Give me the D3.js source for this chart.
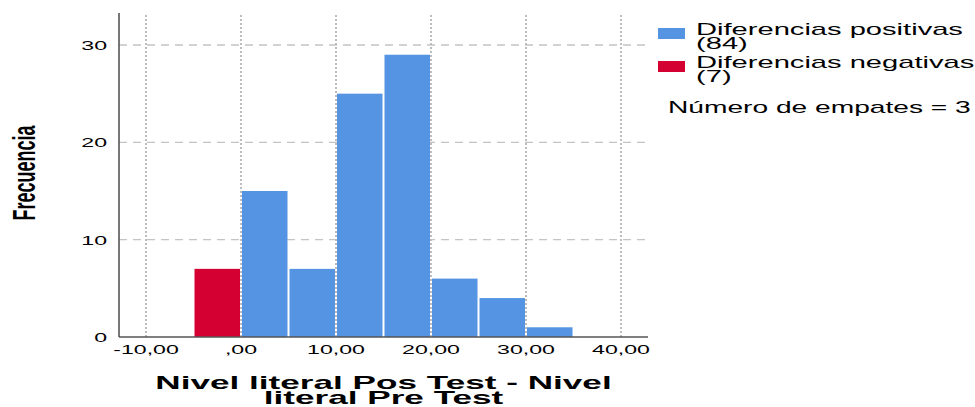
<!DOCTYPE html>
<html>
<head>
<meta charset="utf-8">
<script src="https://cdn.jsdelivr.net/npm/d3@7"></script>
<style>
  html, body { margin: 0; padding: 0; background: #fff; }
  svg { display: block; }
  text { font-family: "Liberation Sans", Arial, sans-serif; fill: #000; }
</style>
</head>
<body>
<svg id="chart" width="975" height="407"></svg>
<script>
// ---- data ----
const binStarts = [-5, 0, 5, 10, 15, 20, 25, 30];
const binWidth = 5;
const counts = [7, 15, 7, 25, 29, 6, 4, 1];
const groups = ["neg", "pos", "pos", "pos", "pos", "pos", "pos", "pos"];
const xTicks = [-10, 0, 10, 20, 30, 40];
const xTickLabels = ["-10,00", ",00", "10,00", "20,00", "30,00", "40,00"];
const yTicks = [0, 10, 20, 30];
const yTickLabels = ["0", "10", "20", "30"];
const legendLabels = [["Diferencias positivas", "(84)"], ["Diferencias negativas", "(7)"]];
const legendGroups = ["pos", "neg"];
const tiesLabel = "Número de empates = 3";
const xTitle = ["Nivel literal Pos Test - Nivel", "literal Pre Test"];
const yTitle = "Frecuencia";

// ---- styles ----
const colors = { pos: "#5594E3", neg: "#D50032" };
const SX = 1.78; // horizontal stretch of text

const svg = d3.select("#chart");
const pLeft = 119, pRight = 648, pTop = 13, pBottom = 337, pad = 27;

const x = d3.scaleLinear().domain([-10, 40]).range([pLeft + pad, pRight - pad]);
const y = d3.scaleLinear().domain([0, 30]).range([pBottom, 45]);

// grid: horizontal dashed
svg.append("g").selectAll("line").data(yTicks.filter(d => d > 0)).join("line")
  .attr("x1", pLeft).attr("x2", pRight)
  .attr("y1", d => y(d)).attr("y2", d => y(d))
  .attr("stroke", "#c4c4c4").attr("stroke-width", 1.3)
  .attr("stroke-dasharray", "8,6");

// grid: vertical dotted
svg.append("g").selectAll("line").data(xTicks).join("line")
  .attr("x1", d => x(d)).attr("x2", d => x(d))
  .attr("y1", pTop + 2).attr("y2", pBottom)
  .attr("stroke", "#bcbcbc").attr("stroke-width", 2)
  .attr("stroke-dasharray", "2,2");

// bars
svg.append("g").selectAll("rect").data(binStarts).join("rect")
  .attr("x", (d) => x(d) + 1)
  .attr("width", (d) => x(d + binWidth) - x(d) - 2)
  .attr("y", (d, i) => y(counts[i]))
  .attr("height", (d, i) => y(0) - y(counts[i]))
  .attr("fill", (d, i) => colors[groups[i]]);

// axes lines
svg.append("line").attr("x1", pLeft).attr("x2", pLeft).attr("y1", pTop).attr("y2", pBottom)
  .attr("stroke", "#555").attr("stroke-width", 1.6);
svg.append("line").attr("x1", pLeft).attr("x2", pRight).attr("y1", pBottom).attr("y2", pBottom)
  .attr("stroke", "#555").attr("stroke-width", 1.6);

// x tick labels
svg.append("g").selectAll("text").data(xTicks).join("text")
  .attr("transform", d => `translate(${x(d)},354) scale(${SX},1)`)
  .attr("text-anchor", "middle")
  .attr("font-size", 13)
  .attr("fill", "#222")
  .text((d, i) => xTickLabels[i]);

// y tick labels
svg.append("g").selectAll("text").data(yTicks).join("text")
  .attr("transform", d => `translate(107,${y(d) + 5}) scale(${SX},1)`)
  .attr("text-anchor", "end")
  .attr("font-size", 13)
  .attr("fill", "#222")
  .text((d, i) => yTickLabels[i]);

// x title
svg.append("g").selectAll("text").data(xTitle).join("text")
  .attr("transform", (d, i) => `translate(${(pLeft + pRight) / 2},${389 + i * 15}) scale(1.9,1)`)
  .attr("text-anchor", "middle")
  .attr("font-size", 18.5)
  .attr("font-weight", "bold")
  .text(d => d);

// y title (rotated, stretched)
svg.append("text")
  .attr("transform", `translate(35,173) scale(1.75,1) rotate(-90)`)
  .attr("text-anchor", "middle")
  .attr("font-family", "'Liberation Sans Narrow', 'Liberation Sans', Arial, sans-serif")
  .attr("font-size", 18)
  .attr("font-weight", "bold")
  .text(yTitle);

// legend
const lg = svg.append("g");
legendGroups.forEach((g, i) => {
  const y0 = 22 + i * 33;
  lg.append("rect")
    .attr("x", 658).attr("y", y0 + 6).attr("width", 27).attr("height", 11)
    .attr("fill", colors[g]);
  legendLabels[i].forEach((t, j) => {
    lg.append("text")
      .attr("transform", `translate(696,${y0 + 13 + j * 14}) scale(1.82,1)`)
      .attr("font-size", 16)
      .attr("fill", "#111")
      .text(t);
  });
});
lg.append("text")
  .attr("transform", `translate(668,113) scale(1.76,1)`)
  .attr("font-size", 16)
  .attr("fill", "#111")
  .text(tiesLabel);
</script>
</body>
</html>
